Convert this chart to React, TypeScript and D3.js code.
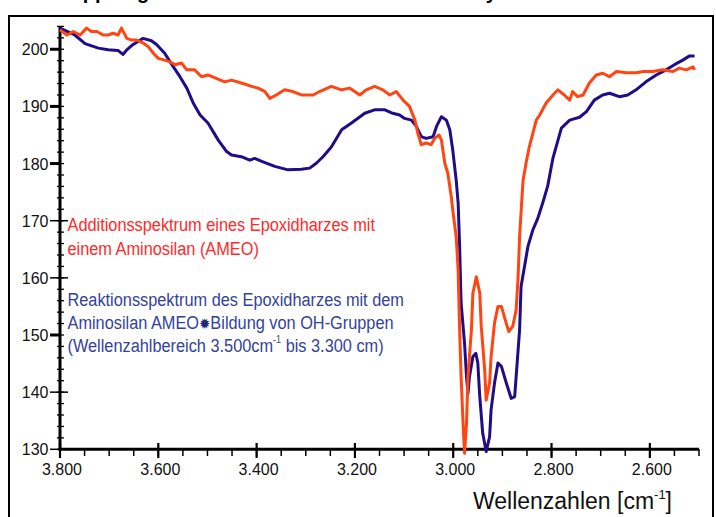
import React, { useEffect, useRef } from "react";
import * as d3 from "d3";

/** Reaction spectrum (navy). */
const blueWavenumbers = [
  3800, 3770, 3749, 3722, 3702, 3682, 3672, 3664, 3652, 3631, 3614, 3603, 3587, 3570, 3556,
  3542, 3529, 3515, 3499, 3478, 3461, 3451, 3431, 3414, 3404, 3387, 3363, 3336, 3309, 3292,
  3278, 3265, 3248, 3227, 3207, 3180, 3160, 3139, 3123, 3109, 3099, 3085, 3075, 3065, 3055,
  3041, 3034, 3024, 3014, 3007, 3001, 2994, 2990, 2987, 2984, 2977, 2973, 2970, 2967, 2960,
  2954, 2950, 2946, 2940, 2933, 2926, 2923, 2916, 2909, 2902, 2892, 2882, 2875, 2871, 2865,
  2862, 2855, 2848, 2838, 2828, 2818, 2808, 2797, 2780, 2763, 2743, 2729, 2713, 2696, 2682,
  2662, 2645, 2628, 2608, 2587, 2567, 2550, 2533, 2520, 2509,
];
const blueValues = [
  203.7, 202.5, 201.0, 200.2, 199.9, 199.8, 199.1, 199.9, 200.8, 201.9, 201.5, 200.8, 199.3, 197.0, 195.2,
  193.2, 190.6, 188.5, 187.1, 184.1, 182.1, 181.5, 181.2, 180.6, 180.9, 180.3, 179.5, 178.9, 179.0, 179.2,
  180.1, 181.2, 182.9, 185.9, 187.1, 188.8, 189.4, 189.4, 188.8, 188.5, 187.9, 187.6, 186.5, 184.7, 184.4,
  184.7, 186.5, 188.2, 187.6, 185.9, 182.4, 177.1, 173.1, 165.5, 155.6, 148.6, 142.7, 139.8, 142.7, 146.2,
  146.8, 145.1, 139.2, 132.8, 129.6, 132.2, 136.9, 141.6, 145.1, 144.5, 141.6, 138.9, 139.2, 143.9, 150.9,
  158.5, 162.0, 165.5, 168.4, 170.4, 173.1, 176.0, 181.0, 186.2, 187.6, 188.1, 189.1, 191.1, 192.0, 192.3,
  191.7, 192.0, 192.9, 194.3, 195.5, 196.4, 197.3, 198.1, 198.8, 198.8,
];

/** Addition spectrum (orange-red). */
const redWavenumbers = [
  3800, 3786, 3773, 3759, 3746, 3736, 3725, 3712, 3702, 3692, 3682, 3675, 3664, 3654, 3644,
  3631, 3621, 3610, 3600, 3587, 3576, 3566, 3553, 3542, 3526, 3512, 3499, 3482, 3465, 3451,
  3431, 3410, 3397, 3383, 3373, 3360, 3343, 3326, 3309, 3285, 3272, 3248, 3227, 3211, 3190,
  3177, 3160, 3143, 3129, 3116, 3102, 3089, 3078, 3072, 3065, 3055, 3045, 3038, 3029, 3024,
  3017, 3011, 3004, 3001, 2994, 2990, 2987, 2984, 2980, 2977, 2973, 2970, 2963, 2960, 2953,
  2946, 2943, 2936, 2933, 2926, 2923, 2916, 2909, 2902, 2894, 2887, 2879, 2872, 2868, 2865,
  2858, 2851, 2845, 2831, 2824, 2811, 2797, 2787, 2774, 2763, 2757, 2747, 2736, 2723, 2709,
  2696, 2682, 2668, 2648, 2628, 2613, 2594, 2574, 2553, 2540, 2526, 2512, 2509,
];
const redValues = [
  203.4, 202.5, 203.1, 202.5, 203.7, 203.1, 203.1, 202.5, 202.5, 202.8, 202.5, 203.7, 201.9, 201.6, 201.6,
  201.1, 200.5, 199.3, 198.4, 198.1, 197.8, 197.3, 197.6, 196.4, 196.4, 195.2, 195.5, 194.9, 194.3, 194.6,
  194.1, 193.5, 193.2, 192.6, 191.4, 192.0, 192.9, 192.6, 192.0, 192.0, 192.6, 193.5, 192.9, 193.2, 192.0,
  192.9, 193.5, 192.9, 192.0, 192.6, 191.1, 190.0, 187.6, 185.3, 183.3, 183.6, 183.3, 184.4, 185.0, 184.1,
  180.0, 178.3, 174.2, 171.9, 167.2, 161.4, 150.9, 142.7, 134.5, 129.3, 134.5, 142.7, 150.9, 157.3, 160.2,
  157.3, 151.5, 143.9, 138.6, 141.6, 146.2, 152.1, 155.0, 155.0, 152.6, 150.6, 151.5, 154.4, 160.2, 167.2,
  177.0, 180.5, 183.0, 187.6, 188.5, 190.6, 192.0, 192.9, 192.0, 191.1, 192.6, 191.7, 192.0, 194.1, 195.5,
  195.8, 195.2, 196.1, 195.9, 195.9, 196.1, 196.1, 196.4, 196.1, 196.7, 196.4, 196.9, 196.4,
];

/** Axis ticks. */
const yTickValues = [200, 190, 180, 170, 160, 150, 140, 130];
const yBoldTicks = [200, 190, 180, 150];
const xTickValues = [3800, 3600, 3400, 3200, 3000, 2800, 2600];
const xTickLabels = ["3.800", "3.600", "3.400", "3.200", "3.000", "2.800", "2.600"];

/** Legend texts. */
const redLegend = ["Additionsspektrum eines Epoxidharzes mit", "einem Aminosilan (AMEO)"];
const blueLegend = ["Reaktionsspektrum des Epoxidharzes mit dem", "Aminosilan AMEO", "Bildung von OH-Gruppen"];

/** Style variables. */
const colorRed = "#ff4612";
const colorBlue = "#1f0c8a";
const colorRedText = "#ff2a2a";
const colorBlueText = "#33439a";
const font = "'Liberation Sans', Arial, sans-serif";

function drawChart(svgEl: SVGSVGElement) {
  const svg = d3.select(svgEl);
  svg.selectAll("*").remove();

  // Scales
  const x = d3.scaleLinear().domain([3800, 2500]).range([60, 699]);
  const y = d3.scaleLinear().domain([130, 204]).range([449.3, 26.4]);

  // Title, mostly above the visible area
  svg
    .append("text")
    .attr("x", 56)
    .attr("y", -1)
    .attr("font-family", font)
    .attr("font-weight", "bold")
    .attr("font-size", 20)
    .text("Kopplung des Aminosilans an das Harz: Analyse");

  // Outer frame
  svg
    .append("rect")
    .attr("x", 9)
    .attr("y", 16)
    .attr("width", 704)
    .attr("height", 520)
    .attr("fill", "none")
    .attr("stroke", "#000")
    .attr("stroke-width", 2);

  const g = svg.append("g");

  // Y minor ticks
  g.selectAll(".yminor")
    .data(d3.range(130, 204.1, 2))
    .join("line")
    .attr("x1", 57)
    .attr("x2", 64)
    .attr("y1", (d) => y(d))
    .attr("y2", (d) => y(d))
    .attr("stroke", "#000")
    .attr("stroke-width", 1.3);

  // Y major ticks
  g.selectAll(".ymajor")
    .data(yTickValues)
    .join("line")
    .attr("x1", 50)
    .attr("x2", (d) => (yBoldTicks.includes(d) ? 60 : 68))
    .attr("y1", (d) => y(d))
    .attr("y2", (d) => y(d))
    .attr("stroke", "#000")
    .attr("stroke-width", (d) => (yBoldTicks.includes(d) ? 3 : 1.5));

  g.selectAll(".ylabel")
    .data(yTickValues)
    .join("text")
    .attr("x", 48.5)
    .attr("y", (d) => y(d) + 6)
    .attr("text-anchor", "end")
    .attr("font-family", font)
    .attr("font-size", 16)
    .attr("fill", "#111")
    .text((d) => d);

  // X minor ticks
  g.selectAll(".xminor")
    .data(d3.range(3800, 2499, -50))
    .join("line")
    .attr("x1", (d) => x(d))
    .attr("x2", (d) => x(d))
    .attr("y1", 449)
    .attr("y2", 456)
    .attr("stroke", "#000")
    .attr("stroke-width", 1.5);

  // X major ticks and labels
  g.selectAll(".xmajor")
    .data(xTickValues)
    .join("line")
    .attr("x1", (d) => x(d))
    .attr("x2", (d) => x(d))
    .attr("y1", 443)
    .attr("y2", 458)
    .attr("stroke", "#000")
    .attr("stroke-width", 2.2);

  g.selectAll(".xlabel")
    .data(xTickValues)
    .join("text")
    .attr("x", (d) => x(d) + 2)
    .attr("y", 475)
    .attr("text-anchor", "middle")
    .attr("font-family", font)
    .attr("font-size", 16)
    .attr("fill", "#111")
    .text((d, i) => xTickLabels[i]);

  // Axis lines
  g.append("line")
    .attr("x1", 60)
    .attr("x2", 60)
    .attr("y1", y(204))
    .attr("y2", 450.5)
    .attr("stroke", "#000")
    .attr("stroke-width", 3);
  g.append("line")
    .attr("x1", 58.5)
    .attr("x2", x(2500))
    .attr("y1", 449.3)
    .attr("y2", 449.3)
    .attr("stroke", "#000")
    .attr("stroke-width", 3);

  // X axis title
  const title = g
    .append("text")
    .attr("x", 672)
    .attr("y", 509)
    .attr("text-anchor", "end")
    .attr("font-family", font)
    .attr("font-size", 23)
    .attr("fill", "#111");
  title.append("tspan").text("Wellenzahlen [cm");
  title.append("tspan").attr("font-size", 13).attr("dy", -10).text("-1");
  title.append("tspan").attr("dy", 10).text("]");

  // Spectra
  const line = d3
    .line<[number, number]>()
    .x((d) => x(d[0]))
    .y((d) => y(d[1]));

  const bluePoints = blueWavenumbers.map((w, i) => [w, blueValues[i]] as [number, number]);
  const redPoints = redWavenumbers.map((w, i) => [w, redValues[i]] as [number, number]);

  g.append("path")
    .attr("d", line(bluePoints))
    .attr("fill", "none")
    .attr("stroke", colorBlue)
    .attr("stroke-width", 3)
    .attr("stroke-linejoin", "round");

  g.append("path")
    .attr("d", line(redPoints))
    .attr("fill", "none")
    .attr("stroke", colorRed)
    .attr("stroke-width", 3)
    .attr("stroke-linejoin", "round");

  // Legend texts, squeezed horizontally to look like a narrow font
  const legend = g
    .append("g")
    .attr("transform", "translate(67.5,0) scale(0.907,1)")
    .attr("font-family", font)
    .attr("font-size", 18);

  legend
    .selectAll(".red")
    .data(redLegend)
    .join("text")
    .attr("x", 0)
    .attr("y", (d, i) => 231.5 + i * 23.5)
    .attr("fill", colorRedText)
    .text((d) => d);

  legend
    .append("text")
    .attr("x", 0)
    .attr("y", 306)
    .attr("fill", colorBlueText)
    .text(blueLegend[0]);

  const l4 = legend.append("text").attr("x", 0).attr("y", 329.3).attr("fill", colorBlueText);
  l4.append("tspan").text(blueLegend[1]);
  l4.append("tspan").attr("fill", "#1c2a7a").attr("font-family", "'DejaVu Sans'").attr("font-size", 15).text("\u2739");
  l4.append("tspan").text(blueLegend[2]);

  const l5 = legend.append("text").attr("x", 0).attr("y", 352).attr("fill", colorBlueText);
  l5.append("tspan").text("(Wellenzahlbereich 3.500cm");
  l5.append("tspan").attr("font-size", 10).attr("dy", -9).text("-1");
  l5.append("tspan").attr("dy", 9).text(" bis 3.300 cm)");
}

export default function App() {
  const ref = useRef<SVGSVGElement>(null);

  /** Draws chart once the component is mounted. */
  useEffect(() => {
    if (ref.current) drawChart(ref.current);
  }, []);

  return (
    <svg
      ref={ref}
      width={716}
      height={517}
      style={{ position: "absolute", left: 0, top: 0, background: "#fff" }}
    />
  );
}
